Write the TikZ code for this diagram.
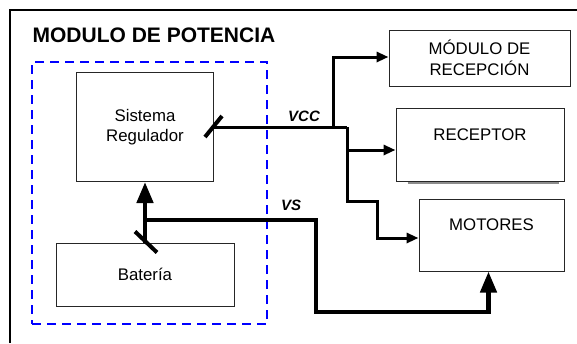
\documentclass[tikz,border=0pt]{standalone}
\usepackage{fontspec}
\setmainfont{Liberation Sans}
\usetikzlibrary{arrows.meta}

\begin{document}
\begin{tikzpicture}[x=1pt,y=-1pt,
  block/.style={draw=black!85,line width=1pt,inner sep=0pt,align=center,font=\fontsize{16.8}{20.5}\selectfont},
  group/.style={draw=blue,line width=2pt,dash pattern=on 9pt off 6pt,inner sep=0pt},
  bus/.style={line width=3pt},
  vs bus/.style={line width=4.5pt},
  cut/.style={line width=4pt},
  small head/.style={-{Triangle[length=12pt,width=10pt]}},
  big head/.style={-{Triangle[length=21pt,width=16pt]}},
  signal/.style={font=\fontsize{15}{18}\selectfont\bfseries\itshape}]

  \useasboundingbox (0,0) rectangle (577,343);

  % marco exterior
  \draw[line width=2pt] (10,343) -- (10,10) -- (577,10);

  \node[font=\fontsize{21}{25}\selectfont\bfseries] (titulo) at (154,35) {MODULO DE POTENCIA};
  \node[group,minimum width=235,minimum height=262] (potencia) at (149.5,193) {};

  \node[block,minimum width=137,minimum height=109] (reg) at (145,127) {Sistema\\Regulador};
  \node[block,minimum width=178,minimum height=63] (bat) at (145,274.5) {Batería};
  \node[block,minimum width=181,minimum height=56] (mrec) at (479.5,58) {MÓDULO DE\\RECEPCIÓN};
  \node[block,minimum width=168,minimum height=73] (rec) at (480,144.5) {RECEPTOR\\~};
  \node[block,minimum width=145,minimum height=72] (mot) at (491.5,235) {MOTORES\\~};

  % sombra del receptor
  \draw[black!45,line width=1.5pt] ([shift={(12,1.5)}]rec.south west) -- ([shift={(-6,1.5)}]rec.south east);

  % linea VCC
  \coordinate (j1) at (333,127);
  \coordinate (j2) at (347,127);
  \coordinate (j3) at (347,150);
  \coordinate (j4) at (377,201);
  \draw[bus] (reg.east) -- (j2);
  \draw[bus,small head] (j1) |- ([yshift=1pt]mrec.west);
  \draw[bus,small head] (j3) -- ([yshift=-5.5pt]rec.west);
  \draw[bus,small head] (j2) |- (j4) |- ([yshift=-3pt]mot.west);
  \node[signal] (vcc) at (304,116) {VCC};

  % linea VS
  \coordinate (k1) at (145,220);
  \coordinate (k2) at (316,312);
  \draw[vs bus,big head] (k1) -| (k2) -| ([xshift=-3pt]mot.south);
  \draw[vs bus,big head] (bat.north) -- (reg.south);
  \node[signal] (vs) at (291,205) {VS};

  % marcas de corte
  \draw[cut] (reg.east) ++(-9,10) -- ++(17,-21);
  \draw[cut] (bat.north) ++(-10,-11) -- ++(22,21);

\end{tikzpicture}
\end{document}
